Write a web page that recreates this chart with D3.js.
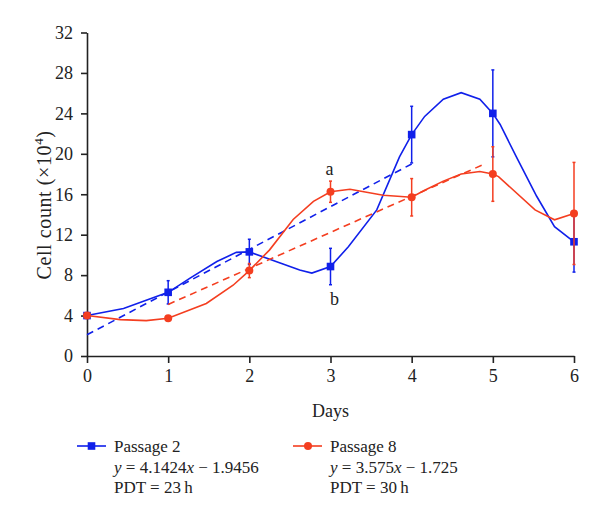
<!DOCTYPE html>
<html>
<head>
<meta charset="utf-8">
<script src="https://cdn.jsdelivr.net/npm/d3@7"></script>
<style>
  body { margin: 0; background: #fff; }
  svg text { font-family: "Liberation Serif", "DejaVu Serif", serif; fill: #222; }
</style>
</head>
<body>
<div id="chart"></div>
<script>
// Measured points (mean +- error) for each passage
const days = [0, 1, 2, 3, 4, 5, 6];
const p2Mean = [4.0, 6.3, 10.3, 8.85, 21.9, 24.0, 11.3];
const p2Err = [0, 1.15, 1.25, 1.8, 2.8, 4.3, 3.0];
const p8Mean = [4.0, 3.73, 8.45, 16.25, 15.7, 18.0, 14.1];
const p8Err = [0, 0, 0.7, 1.05, 1.85, 2.7, 5.05];

// Smoothed curves as drawn in the figure
const p2CurveX = [0, 0.45, 1, 1.27, 1.6, 1.84, 2, 2.38, 2.62, 2.77, 3, 3.22, 3.57, 3.85, 4, 4.16, 4.39, 4.61, 4.84, 5, 5.09, 5.29, 5.54, 5.76, 6];
const p2CurveY = [4.0, 4.7, 6.3, 7.7, 9.35, 10.25, 10.3, 9.2, 8.5, 8.2, 8.85, 10.8, 14.45, 19.7, 21.9, 23.7, 25.4, 26.05, 25.4, 24.0, 22.9, 19.7, 15.8, 12.8, 11.3];
const p8CurveX = [0, 0.41, 0.73, 1, 1.47, 1.8, 2, 2.25, 2.54, 2.79, 3, 3.24, 3.65, 4, 4.16, 4.39, 4.61, 4.84, 5, 5.07, 5.52, 5.76, 6];
const p8CurveY = [4.0, 3.6, 3.5, 3.73, 5.2, 7.0, 8.45, 10.5, 13.5, 15.3, 16.25, 16.5, 15.9, 15.7, 16.4, 17.3, 18.0, 18.25, 18.0, 17.75, 14.45, 13.47, 14.1];

// Linear fit segments (dashed)
const p2FitX = [0, 4];
const p2FitY = [2.1, 19.0];
const p8FitX = [1, 4.9];
const p8FitY = [5.1, 19.0];

const yTicks = [0, 4, 8, 12, 16, 20, 24, 28, 32];

const blue = '#1020ea';
const red = '#f43e20';

const width = 600, height = 522;
const x = d3.scaleLinear().domain([0, 6]).range([87, 574]);
const y = d3.scaleLinear().domain([0, 32]).range([356, 32.5]);

const svg = d3.select('#chart').append('svg')
    .attr('width', width)
    .attr('height', height);

// Axes
const yAxis = svg.append('g')
    .attr('transform', `translate(${x(0)},0)`)
    .call(d3.axisLeft(y).tickValues(yTicks).tickFormat(d3.format('d'))
        .tickSize(6).tickPadding(8).tickSizeOuter(0));
const xAxis = svg.append('g')
    .attr('transform', `translate(0,${y(0)})`)
    .call(d3.axisBottom(x).tickValues(days).tickFormat(d3.format('d'))
        .tickSize(7).tickPadding(6).tickSizeOuter(0));
[yAxis, xAxis].forEach(g => {
    g.selectAll('path, line').attr('stroke', '#222').attr('stroke-width', 1.6);
    g.selectAll('text').attr('font-size', 18).attr('fill', '#222')
        .attr('font-family', '"Liberation Serif", serif');
});

// Axis titles
const yLabel = svg.append('text')
    .attr('transform', `translate(51,205) rotate(-90)`)
    .attr('text-anchor', 'middle')
    .attr('font-size', 20)
    .attr('letter-spacing', 0.6);
yLabel.append('tspan').text('Cell count (×10');
yLabel.append('tspan').attr('font-size', 13).attr('dy', -8).text('4');
yLabel.append('tspan').attr('dy', 8).text(')');

svg.append('text')
    .attr('x', x(3))
    .attr('y', 417)
    .attr('text-anchor', 'middle')
    .attr('font-size', 18)
    .text('Days');

const plot = svg.append('g');
const line = d3.line().x(d => x(d[0])).y(d => y(d[1]));

function drawSeries(color, cx, cy, fx, fy, mean, err, marker) {
    const g = plot.append('g');
    g.append('path')
        .attr('d', line(d3.zip(fx, fy)))
        .attr('fill', 'none').attr('stroke', color)
        .attr('stroke-width', 1.6).attr('stroke-dasharray', '7,5');
    g.append('path')
        .attr('d', line(d3.zip(cx, cy)))
        .attr('fill', 'none').attr('stroke', color).attr('stroke-width', 1.6);
    days.forEach((d, i) => {
        if (err[i] > 0) {
            g.append('line')
                .attr('x1', x(d)).attr('x2', x(d))
                .attr('y1', y(mean[i] - err[i])).attr('y2', y(mean[i] + err[i]))
                .attr('stroke', color).attr('stroke-width', 1.5);
            [mean[i] - err[i], mean[i] + err[i]].forEach(v => {
                g.append('line')
                    .attr('x1', x(d) - 1.5).attr('x2', x(d) + 1.5)
                    .attr('y1', y(v)).attr('y2', y(v))
                    .attr('stroke', color).attr('stroke-width', 1.5);
            });
        }
        if (marker === 'square') {
            g.append('rect')
                .attr('x', x(d) - 3.8).attr('y', y(mean[i]) - 3.8)
                .attr('width', 7.6).attr('height', 7.6)
                .attr('fill', color);
        } else {
            g.append('circle')
                .attr('cx', x(d)).attr('cy', y(mean[i]))
                .attr('r', 4).attr('fill', color);
        }
    });
}

drawSeries(blue, p2CurveX, p2CurveY, p2FitX, p2FitY, p2Mean, p2Err, 'square');
drawSeries(red, p8CurveX, p8CurveY, p8FitX, p8FitY, p8Mean, p8Err, 'circle');

// Significance letters
svg.append('text').attr('x', x(3) - 1).attr('y', y(p8Mean[3] + p8Err[3]) - 6)
    .attr('text-anchor', 'middle').attr('font-size', 18).text('a');
svg.append('text').attr('x', x(3) + 4).attr('y', 305)
    .attr('text-anchor', 'middle').attr('font-size', 18).text('b');

// Legend
const legendItems = [
    { color: blue, marker: 'square', x: 77, title: 'Passage 2', a: '4.1424', b: '1.9456', pdt: '23' },
    { color: red, marker: 'circle', x: 293, title: 'Passage 8', a: '3.575', b: '1.725', pdt: '30' }
];
legendItems.forEach(it => {
    const g = svg.append('g').attr('transform', `translate(${it.x},446)`);
    g.append('line').attr('x1', 0).attr('x2', 29).attr('y1', 0).attr('y2', 0)
        .attr('stroke', it.color).attr('stroke-width', 1.6);
    if (it.marker === 'square') {
        g.append('rect').attr('x', 14.5 - 3.8).attr('y', -3.8).attr('width', 7.6).attr('height', 7.6).attr('fill', it.color);
    } else {
        g.append('circle').attr('cx', 15).attr('cy', 0).attr('r', 4).attr('fill', it.color);
    }
    const tx = 37;
    g.append('text').attr('x', tx).attr('y', 6).attr('font-size', 17).text(it.title);
    const eq = g.append('text').attr('x', tx).attr('y', 27).attr('font-size', 17);
    eq.append('tspan').attr('font-style', 'italic').text('y');
    eq.append('tspan').text(` = ${it.a}`);
    eq.append('tspan').attr('font-style', 'italic').text('x');
    eq.append('tspan').text(` − ${it.b}`);
    g.append('text').attr('x', tx).attr('y', 47).attr('font-size', 17).text(`PDT = ${it.pdt}\u2009h`);
});
</script>
</body>
</html>
